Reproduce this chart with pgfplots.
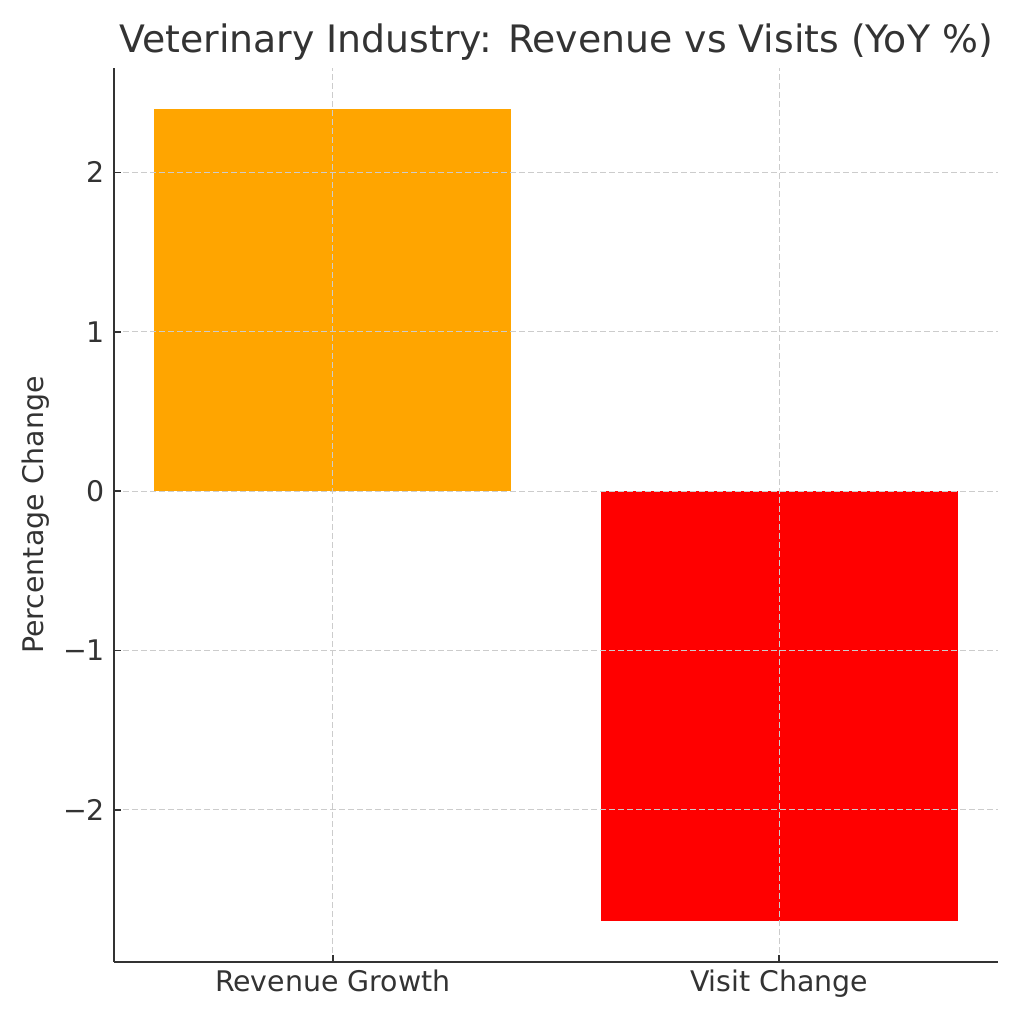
\documentclass[border=0pt]{standalone}
\usepackage{pgfplots}
\pgfplotsset{compat=1.18}
\usepackage{fontspec}
\setmainfont{DejaVu Sans}
\definecolor{txt}{HTML}{333333}
\definecolor{gridc}{HTML}{CCCCCC}
\definecolor{barorange}{HTML}{FFA500}
\definecolor{barred}{HTML}{FF0000}
\begin{document}
\begin{tikzpicture}
\path[use as bounding box] (0,0) rectangle (512pt,512pt);
\begin{axis}[
  at={(57pt,31pt)}, anchor=south west,
  width=442pt, height=447pt, scale only axis,
  ybar, bar shift=0pt, bar width=0.8,
  xmin=-0.49, xmax=1.49, ymin=-2.955, ymax=2.655,
  axis x line*=bottom, axis y line*=left,
  axis line style={draw=txt, line width=1pt, -},
  xtick={0,1}, xticklabels={Revenue Growth, Visit Change},
  ytick={-2,-1,0,1,2}, yticklabels={−2,−1,0,1,2},
  tick align=inside, major tick length=3.5pt,
  every tick/.style={draw=txt, line width=0.8pt},
  grid=major,
  major grid style={draw=gridc, line width=0.5pt, dash pattern=on 3pt off 1.5pt},
  axis on top,
  tick label style={font=\fontsize{14.2}{17}\selectfont, text=txt},
  xticklabel style={yshift=-0.5pt},
  yticklabel style={xshift=-1pt},
  ylabel={Percentage Change},
  ylabel style={font=\fontsize{14.2}{17}\selectfont, text=txt},
  title={Veterinary Industry: Revenue vs Visits (YoY \%)},
  title style={font=\fontsize{18.9}{22}\selectfont, text=txt, at={(0.5,1)}, anchor=base, yshift=2pt},
]
\addplot[fill=barorange, draw=none] coordinates {(0,2.4)};
\addplot[fill=barred, draw=none] coordinates {(1,-2.7)};
\end{axis}
\end{tikzpicture}
\end{document}
